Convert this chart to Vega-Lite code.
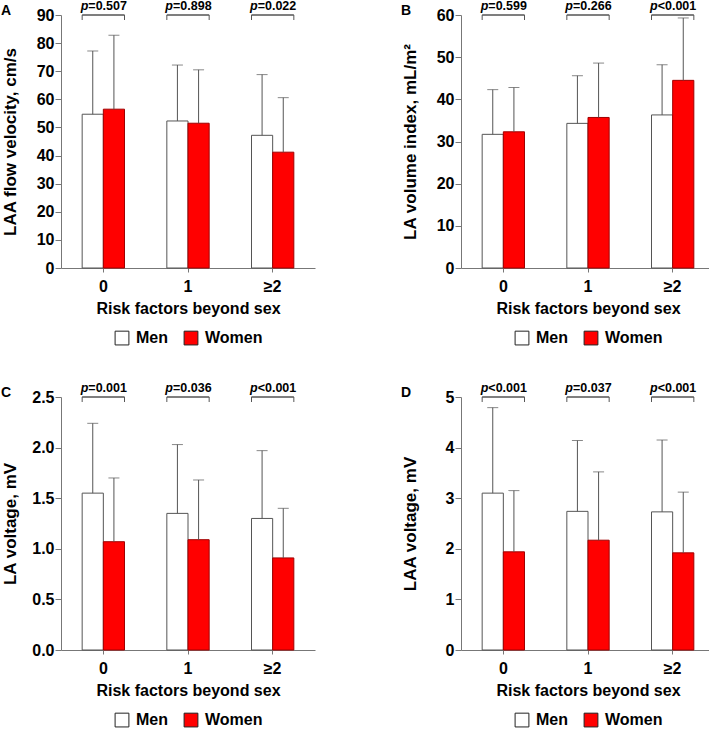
{
  "$schema": "https://vega.github.io/schema/vega-lite/v6.json",
  "padding": {"left": 1, "top": 0, "right": 0, "bottom": 0},
  "background": "white",
  "datasets": {
    "d": [
      {"panel": "A", "risk": "0", "sex": "Men", "mean": 54.7, "upper": 77.2, "p": "=0.507"},
      {"panel": "A", "risk": "0", "sex": "Women", "mean": 56.5, "upper": 82.8, "p": "=0.507"},
      {"panel": "A", "risk": "1", "sex": "Men", "mean": 52.3, "upper": 72.2, "p": "=0.898"},
      {"panel": "A", "risk": "1", "sex": "Women", "mean": 51.5, "upper": 70.5, "p": "=0.898"},
      {"panel": "A", "risk": "≥2", "sex": "Men", "mean": 47.2, "upper": 68.8, "p": "=0.022"},
      {"panel": "A", "risk": "≥2", "sex": "Women", "mean": 41.2, "upper": 60.6, "p": "=0.022"},
      {"panel": "B", "risk": "0", "sex": "Men", "mean": 31.7, "upper": 42.3, "p": "=0.599"},
      {"panel": "B", "risk": "0", "sex": "Women", "mean": 32.3, "upper": 42.8, "p": "=0.599"},
      {"panel": "B", "risk": "1", "sex": "Men", "mean": 34.3, "upper": 45.6, "p": "=0.266"},
      {"panel": "B", "risk": "1", "sex": "Women", "mean": 35.7, "upper": 48.6, "p": "=0.266"},
      {"panel": "B", "risk": "≥2", "sex": "Men", "mean": 36.3, "upper": 48.2, "p": "<0.001"},
      {"panel": "B", "risk": "≥2", "sex": "Women", "mean": 44.5, "upper": 59.3, "p": "<0.001"},
      {"panel": "C", "risk": "0", "sex": "Men", "mean": 1.55, "upper": 2.24, "p": "=0.001"},
      {"panel": "C", "risk": "0", "sex": "Women", "mean": 1.07, "upper": 1.70, "p": "=0.001"},
      {"panel": "C", "risk": "1", "sex": "Men", "mean": 1.35, "upper": 2.03, "p": "=0.036"},
      {"panel": "C", "risk": "1", "sex": "Women", "mean": 1.09, "upper": 1.68, "p": "=0.036"},
      {"panel": "C", "risk": "≥2", "sex": "Men", "mean": 1.30, "upper": 1.97, "p": "<0.001"},
      {"panel": "C", "risk": "≥2", "sex": "Women", "mean": 0.91, "upper": 1.40, "p": "<0.001"},
      {"panel": "D", "risk": "0", "sex": "Men", "mean": 3.10, "upper": 4.79, "p": "<0.001"},
      {"panel": "D", "risk": "0", "sex": "Women", "mean": 1.94, "upper": 3.15, "p": "<0.001"},
      {"panel": "D", "risk": "1", "sex": "Men", "mean": 2.74, "upper": 4.14, "p": "=0.037"},
      {"panel": "D", "risk": "1", "sex": "Women", "mean": 2.17, "upper": 3.52, "p": "=0.037"},
      {"panel": "D", "risk": "≥2", "sex": "Men", "mean": 2.73, "upper": 4.15, "p": "<0.001"},
      {"panel": "D", "risk": "≥2", "sex": "Women", "mean": 1.92, "upper": 3.12, "p": "<0.001"}
    ]
  },
  "columns": 2,
  "spacing": {"column": 86, "row": 35},
  "resolve": {"scale": {"color": "independent", "stroke": "independent"}},
  "concat": [
    {
      "title": {"text": "A"},
      "width": 254, "height": 253,
      "data": {"name": "d"},
      "transform": [{"filter": "datum.panel === 'A'"}],
      "encoding": {
        "x": {"field": "risk", "type": "nominal", "sort": ["0", "1", "≥2"], "title": "Risk factors beyond sex", "scale": {"paddingInner": 0.5, "paddingOuter": 0.25}}
      },
      "layer": [
        {"mark": {"type": "bar", "strokeWidth": 1},
         "encoding": {
           "xOffset": {"field": "sex", "type": "nominal", "sort": ["Men", "Women"], "scale": {"paddingInner": 0, "paddingOuter": 0}},
           "y": {"field": "mean", "type": "quantitative", "title": "LAA flow velocity, cm/s", "scale": {"domain": [0, 90], "nice": false}, "axis": {"values": [0, 10, 20, 30, 40, 50, 60, 70, 80, 90]}},
           "color": {"field": "sex", "type": "nominal", "sort": ["Men", "Women"], "scale": {"range": ["#ffffff", "#ff0000"]}, "legend": {"title": null, "orient": "bottom", "direction": "horizontal", "symbolType": "square", "symbolSize": 190, "symbolStrokeColor": "#222222", "symbolStrokeWidth": 1, "labelFontSize": 16, "labelFontWeight": "bold", "labelColor": "#000000", "labelOffset": 6, "columnPadding": 14, "offset": 14}},
           "stroke": {"field": "sex", "type": "nominal", "sort": ["Men", "Women"], "scale": {"range": ["#555555", "#a00000"]}, "legend": null}
         }},
        {"mark": {"type": "rule", "color": "#555555", "strokeWidth": 1},
         "encoding": {
           "xOffset": {"field": "sex", "type": "nominal", "sort": ["Men", "Women"]},
           "y": {"field": "mean", "type": "quantitative", "title": "LAA flow velocity, cm/s", "axis": {"values": [0, 10, 20, 30, 40, 50, 60, 70, 80, 90]}},
           "y2": {"field": "upper"}
         }},
        {"mark": {"type": "tick", "color": "#555555", "size": 11, "thickness": 1, "orient": "horizontal"},
         "encoding": {
           "xOffset": {"field": "sex", "type": "nominal", "sort": ["Men", "Women"]},
           "y": {"field": "upper", "type": "quantitative", "title": "LAA flow velocity, cm/s", "axis": {"values": [0, 10, 20, 30, 40, 50, 60, 70, 80, 90]}}
         }},
        {"transform": [{"filter": "datum.sex === 'Men'"}],
         "mark": {"type": "bar", "fill": "transparent", "stroke": "#555555", "strokeWidth": 1},
         "encoding": {"y": {"datum": 90, "type": "quantitative", "title": "LAA flow velocity, cm/s", "axis": {"values": [0, 10, 20, 30, 40, 50, 60, 70, 80, 90]}}, "y2": {"datum": 90}}},
        {"transform": [{"filter": "datum.sex === 'Men'"}],
         "mark": {"type": "rule", "color": "#555555", "strokeWidth": 1, "y2Offset": 5},
         "encoding": {"x": {"field": "risk", "type": "nominal", "sort": ["0", "1", "≥2"], "title": "Risk factors beyond sex", "bandPosition": 0}, "y": {"datum": 90, "type": "quantitative", "title": "LAA flow velocity, cm/s", "axis": {"values": [0, 10, 20, 30, 40, 50, 60, 70, 80, 90]}}, "y2": {"datum": 90}}},
        {"transform": [{"filter": "datum.sex === 'Men'"}],
         "mark": {"type": "rule", "color": "#555555", "strokeWidth": 1, "y2Offset": 5},
         "encoding": {"x": {"field": "risk", "type": "nominal", "sort": ["0", "1", "≥2"], "title": "Risk factors beyond sex", "bandPosition": 1}, "y": {"datum": 90, "type": "quantitative", "title": "LAA flow velocity, cm/s", "axis": {"values": [0, 10, 20, 30, 40, 50, 60, 70, 80, 90]}}, "y2": {"datum": 90}}},
        {"transform": [{"filter": "datum.sex === 'Men'"}],
         "mark": {"type": "text", "fontStyle": "italic", "fontWeight": "bold", "fontSize": 12.5, "align": "right", "baseline": "alphabetic", "dx": -15, "dy": -5, "color": "#000000"},
         "encoding": {"text": {"value": "p"}, "y": {"datum": 90, "type": "quantitative", "title": "LAA flow velocity, cm/s", "axis": {"values": [0, 10, 20, 30, 40, 50, 60, 70, 80, 90]}}}},
        {"transform": [{"filter": "datum.sex === 'Men'"}],
         "mark": {"type": "text", "fontWeight": "bold", "fontSize": 12.5, "align": "left", "baseline": "alphabetic", "dx": -15, "dy": -5, "color": "#000000"},
         "encoding": {"text": {"field": "p"}, "y": {"datum": 90, "type": "quantitative", "title": "LAA flow velocity, cm/s", "axis": {"values": [0, 10, 20, 30, 40, 50, 60, 70, 80, 90]}}}}
      ]
    },
    {
      "title": {"text": "B"},
      "width": 254, "height": 253,
      "data": {"name": "d"},
      "transform": [{"filter": "datum.panel === 'B'"}],
      "encoding": {
        "x": {"field": "risk", "type": "nominal", "sort": ["0", "1", "≥2"], "title": "Risk factors beyond sex", "scale": {"paddingInner": 0.5, "paddingOuter": 0.25}}
      },
      "layer": [
        {"mark": {"type": "bar", "strokeWidth": 1},
         "encoding": {
           "xOffset": {"field": "sex", "type": "nominal", "sort": ["Men", "Women"], "scale": {"paddingInner": 0, "paddingOuter": 0}},
           "y": {"field": "mean", "type": "quantitative", "title": "LA volume index, mL/m²", "scale": {"domain": [0, 60], "nice": false}, "axis": {"values": [0, 10, 20, 30, 40, 50, 60]}},
           "color": {"field": "sex", "type": "nominal", "sort": ["Men", "Women"], "scale": {"range": ["#ffffff", "#ff0000"]}, "legend": {"title": null, "orient": "bottom", "direction": "horizontal", "symbolType": "square", "symbolSize": 190, "symbolStrokeColor": "#222222", "symbolStrokeWidth": 1, "labelFontSize": 16, "labelFontWeight": "bold", "labelColor": "#000000", "labelOffset": 6, "columnPadding": 14, "offset": 14}},
           "stroke": {"field": "sex", "type": "nominal", "sort": ["Men", "Women"], "scale": {"range": ["#555555", "#a00000"]}, "legend": null}
         }},
        {"mark": {"type": "rule", "color": "#555555", "strokeWidth": 1},
         "encoding": {
           "xOffset": {"field": "sex", "type": "nominal", "sort": ["Men", "Women"]},
           "y": {"field": "mean", "type": "quantitative", "title": "LA volume index, mL/m²", "axis": {"values": [0, 10, 20, 30, 40, 50, 60]}},
           "y2": {"field": "upper"}
         }},
        {"mark": {"type": "tick", "color": "#555555", "size": 11, "thickness": 1, "orient": "horizontal"},
         "encoding": {
           "xOffset": {"field": "sex", "type": "nominal", "sort": ["Men", "Women"]},
           "y": {"field": "upper", "type": "quantitative", "title": "LA volume index, mL/m²", "axis": {"values": [0, 10, 20, 30, 40, 50, 60]}}
         }},
        {"transform": [{"filter": "datum.sex === 'Men'"}],
         "mark": {"type": "bar", "fill": "transparent", "stroke": "#555555", "strokeWidth": 1},
         "encoding": {"y": {"datum": 60, "type": "quantitative", "title": "LA volume index, mL/m²", "axis": {"values": [0, 10, 20, 30, 40, 50, 60]}}, "y2": {"datum": 60}}},
        {"transform": [{"filter": "datum.sex === 'Men'"}],
         "mark": {"type": "rule", "color": "#555555", "strokeWidth": 1, "y2Offset": 5},
         "encoding": {"x": {"field": "risk", "type": "nominal", "sort": ["0", "1", "≥2"], "title": "Risk factors beyond sex", "bandPosition": 0}, "y": {"datum": 60, "type": "quantitative", "title": "LA volume index, mL/m²", "axis": {"values": [0, 10, 20, 30, 40, 50, 60]}}, "y2": {"datum": 60}}},
        {"transform": [{"filter": "datum.sex === 'Men'"}],
         "mark": {"type": "rule", "color": "#555555", "strokeWidth": 1, "y2Offset": 5},
         "encoding": {"x": {"field": "risk", "type": "nominal", "sort": ["0", "1", "≥2"], "title": "Risk factors beyond sex", "bandPosition": 1}, "y": {"datum": 60, "type": "quantitative", "title": "LA volume index, mL/m²", "axis": {"values": [0, 10, 20, 30, 40, 50, 60]}}, "y2": {"datum": 60}}},
        {"transform": [{"filter": "datum.sex === 'Men'"}],
         "mark": {"type": "text", "fontStyle": "italic", "fontWeight": "bold", "fontSize": 12.5, "align": "right", "baseline": "alphabetic", "dx": -15, "dy": -5, "color": "#000000"},
         "encoding": {"text": {"value": "p"}, "y": {"datum": 60, "type": "quantitative", "title": "LA volume index, mL/m²", "axis": {"values": [0, 10, 20, 30, 40, 50, 60]}}}},
        {"transform": [{"filter": "datum.sex === 'Men'"}],
         "mark": {"type": "text", "fontWeight": "bold", "fontSize": 12.5, "align": "left", "baseline": "alphabetic", "dx": -15, "dy": -5, "color": "#000000"},
         "encoding": {"text": {"field": "p"}, "y": {"datum": 60, "type": "quantitative", "title": "LA volume index, mL/m²", "axis": {"values": [0, 10, 20, 30, 40, 50, 60]}}}}
      ]
    },
    {
      "title": {"text": "C"},
      "width": 254, "height": 253,
      "data": {"name": "d"},
      "transform": [{"filter": "datum.panel === 'C'"}],
      "encoding": {
        "x": {"field": "risk", "type": "nominal", "sort": ["0", "1", "≥2"], "title": "Risk factors beyond sex", "scale": {"paddingInner": 0.5, "paddingOuter": 0.25}}
      },
      "layer": [
        {"mark": {"type": "bar", "strokeWidth": 1},
         "encoding": {
           "xOffset": {"field": "sex", "type": "nominal", "sort": ["Men", "Women"], "scale": {"paddingInner": 0, "paddingOuter": 0}},
           "y": {"field": "mean", "type": "quantitative", "title": "LA voltage, mV", "scale": {"domain": [0, 2.5], "nice": false}, "axis": {"values": [0, 0.5, 1, 1.5, 2, 2.5], "format": ".1f"}},
           "color": {"field": "sex", "type": "nominal", "sort": ["Men", "Women"], "scale": {"range": ["#ffffff", "#ff0000"]}, "legend": {"title": null, "orient": "bottom", "direction": "horizontal", "symbolType": "square", "symbolSize": 190, "symbolStrokeColor": "#222222", "symbolStrokeWidth": 1, "labelFontSize": 16, "labelFontWeight": "bold", "labelColor": "#000000", "labelOffset": 6, "columnPadding": 14, "offset": 14}},
           "stroke": {"field": "sex", "type": "nominal", "sort": ["Men", "Women"], "scale": {"range": ["#555555", "#a00000"]}, "legend": null}
         }},
        {"mark": {"type": "rule", "color": "#555555", "strokeWidth": 1},
         "encoding": {
           "xOffset": {"field": "sex", "type": "nominal", "sort": ["Men", "Women"]},
           "y": {"field": "mean", "type": "quantitative", "title": "LA voltage, mV", "axis": {"values": [0, 0.5, 1, 1.5, 2, 2.5], "format": ".1f"}},
           "y2": {"field": "upper"}
         }},
        {"mark": {"type": "tick", "color": "#555555", "size": 11, "thickness": 1, "orient": "horizontal"},
         "encoding": {
           "xOffset": {"field": "sex", "type": "nominal", "sort": ["Men", "Women"]},
           "y": {"field": "upper", "type": "quantitative", "title": "LA voltage, mV", "axis": {"values": [0, 0.5, 1, 1.5, 2, 2.5], "format": ".1f"}}
         }},
        {"transform": [{"filter": "datum.sex === 'Men'"}],
         "mark": {"type": "bar", "fill": "transparent", "stroke": "#555555", "strokeWidth": 1},
         "encoding": {"y": {"datum": 2.5, "type": "quantitative", "title": "LA voltage, mV", "axis": {"values": [0, 0.5, 1, 1.5, 2, 2.5], "format": ".1f"}}, "y2": {"datum": 2.5}}},
        {"transform": [{"filter": "datum.sex === 'Men'"}],
         "mark": {"type": "rule", "color": "#555555", "strokeWidth": 1, "y2Offset": 5},
         "encoding": {"x": {"field": "risk", "type": "nominal", "sort": ["0", "1", "≥2"], "title": "Risk factors beyond sex", "bandPosition": 0}, "y": {"datum": 2.5, "type": "quantitative", "title": "LA voltage, mV", "axis": {"values": [0, 0.5, 1, 1.5, 2, 2.5], "format": ".1f"}}, "y2": {"datum": 2.5}}},
        {"transform": [{"filter": "datum.sex === 'Men'"}],
         "mark": {"type": "rule", "color": "#555555", "strokeWidth": 1, "y2Offset": 5},
         "encoding": {"x": {"field": "risk", "type": "nominal", "sort": ["0", "1", "≥2"], "title": "Risk factors beyond sex", "bandPosition": 1}, "y": {"datum": 2.5, "type": "quantitative", "title": "LA voltage, mV", "axis": {"values": [0, 0.5, 1, 1.5, 2, 2.5], "format": ".1f"}}, "y2": {"datum": 2.5}}},
        {"transform": [{"filter": "datum.sex === 'Men'"}],
         "mark": {"type": "text", "fontStyle": "italic", "fontWeight": "bold", "fontSize": 12.5, "align": "right", "baseline": "alphabetic", "dx": -15, "dy": -5, "color": "#000000"},
         "encoding": {"text": {"value": "p"}, "y": {"datum": 2.5, "type": "quantitative", "title": "LA voltage, mV", "axis": {"values": [0, 0.5, 1, 1.5, 2, 2.5], "format": ".1f"}}}},
        {"transform": [{"filter": "datum.sex === 'Men'"}],
         "mark": {"type": "text", "fontWeight": "bold", "fontSize": 12.5, "align": "left", "baseline": "alphabetic", "dx": -15, "dy": -5, "color": "#000000"},
         "encoding": {"text": {"field": "p"}, "y": {"datum": 2.5, "type": "quantitative", "title": "LA voltage, mV", "axis": {"values": [0, 0.5, 1, 1.5, 2, 2.5], "format": ".1f"}}}}
      ]
    },
    {
      "title": {"text": "D"},
      "width": 254, "height": 253,
      "data": {"name": "d"},
      "transform": [{"filter": "datum.panel === 'D'"}],
      "encoding": {
        "x": {"field": "risk", "type": "nominal", "sort": ["0", "1", "≥2"], "title": "Risk factors beyond sex", "scale": {"paddingInner": 0.5, "paddingOuter": 0.25}}
      },
      "layer": [
        {"mark": {"type": "bar", "strokeWidth": 1},
         "encoding": {
           "xOffset": {"field": "sex", "type": "nominal", "sort": ["Men", "Women"], "scale": {"paddingInner": 0, "paddingOuter": 0}},
           "y": {"field": "mean", "type": "quantitative", "title": "LAA voltage, mV", "scale": {"domain": [0, 5], "nice": false}, "axis": {"values": [0, 1, 2, 3, 4, 5]}},
           "color": {"field": "sex", "type": "nominal", "sort": ["Men", "Women"], "scale": {"range": ["#ffffff", "#ff0000"]}, "legend": {"title": null, "orient": "bottom", "direction": "horizontal", "symbolType": "square", "symbolSize": 190, "symbolStrokeColor": "#222222", "symbolStrokeWidth": 1, "labelFontSize": 16, "labelFontWeight": "bold", "labelColor": "#000000", "labelOffset": 6, "columnPadding": 14, "offset": 14}},
           "stroke": {"field": "sex", "type": "nominal", "sort": ["Men", "Women"], "scale": {"range": ["#555555", "#a00000"]}, "legend": null}
         }},
        {"mark": {"type": "rule", "color": "#555555", "strokeWidth": 1},
         "encoding": {
           "xOffset": {"field": "sex", "type": "nominal", "sort": ["Men", "Women"]},
           "y": {"field": "mean", "type": "quantitative", "title": "LAA voltage, mV", "axis": {"values": [0, 1, 2, 3, 4, 5]}},
           "y2": {"field": "upper"}
         }},
        {"mark": {"type": "tick", "color": "#555555", "size": 11, "thickness": 1, "orient": "horizontal"},
         "encoding": {
           "xOffset": {"field": "sex", "type": "nominal", "sort": ["Men", "Women"]},
           "y": {"field": "upper", "type": "quantitative", "title": "LAA voltage, mV", "axis": {"values": [0, 1, 2, 3, 4, 5]}}
         }},
        {"transform": [{"filter": "datum.sex === 'Men'"}],
         "mark": {"type": "bar", "fill": "transparent", "stroke": "#555555", "strokeWidth": 1},
         "encoding": {"y": {"datum": 5, "type": "quantitative", "title": "LAA voltage, mV", "axis": {"values": [0, 1, 2, 3, 4, 5]}}, "y2": {"datum": 5}}},
        {"transform": [{"filter": "datum.sex === 'Men'"}],
         "mark": {"type": "rule", "color": "#555555", "strokeWidth": 1, "y2Offset": 5},
         "encoding": {"x": {"field": "risk", "type": "nominal", "sort": ["0", "1", "≥2"], "title": "Risk factors beyond sex", "bandPosition": 0}, "y": {"datum": 5, "type": "quantitative", "title": "LAA voltage, mV", "axis": {"values": [0, 1, 2, 3, 4, 5]}}, "y2": {"datum": 5}}},
        {"transform": [{"filter": "datum.sex === 'Men'"}],
         "mark": {"type": "rule", "color": "#555555", "strokeWidth": 1, "y2Offset": 5},
         "encoding": {"x": {"field": "risk", "type": "nominal", "sort": ["0", "1", "≥2"], "title": "Risk factors beyond sex", "bandPosition": 1}, "y": {"datum": 5, "type": "quantitative", "title": "LAA voltage, mV", "axis": {"values": [0, 1, 2, 3, 4, 5]}}, "y2": {"datum": 5}}},
        {"transform": [{"filter": "datum.sex === 'Men'"}],
         "mark": {"type": "text", "fontStyle": "italic", "fontWeight": "bold", "fontSize": 12.5, "align": "right", "baseline": "alphabetic", "dx": -15, "dy": -5, "color": "#000000"},
         "encoding": {"text": {"value": "p"}, "y": {"datum": 5, "type": "quantitative", "title": "LAA voltage, mV", "axis": {"values": [0, 1, 2, 3, 4, 5]}}}},
        {"transform": [{"filter": "datum.sex === 'Men'"}],
         "mark": {"type": "text", "fontWeight": "bold", "fontSize": 12.5, "align": "left", "baseline": "alphabetic", "dx": -15, "dy": -5, "color": "#000000"},
         "encoding": {"text": {"field": "p"}, "y": {"datum": 5, "type": "quantitative", "title": "LAA voltage, mV", "axis": {"values": [0, 1, 2, 3, 4, 5]}}}}
      ]
    }
  ],
  "config": {
    "font": "Liberation Sans",
    "view": {"stroke": null},
    "axis": {"domainColor": "#777777", "tickColor": "#777777", "labelFontSize": 16, "labelFontWeight": "bold", "labelColor": "#000000", "titleFontSize": 17, "titleFontWeight": "bold", "titleColor": "#000000", "grid": false},
    "axisX": {"tickSize": 4, "labelPadding": 6, "titleFontSize": 16, "titlePadding": 6, "labelAngle": 0},
    "axisY": {"tickSize": 6, "labelPadding": 1, "minExtent": 26, "maxExtent": 26, "titlePadding": 16},
    "legend": {"layout": {"bottom": {"anchor": "middle"}}},
    "title": {"anchor": "start", "frame": "bounds", "fontSize": 14, "fontWeight": "bold", "color": "#000000", "offset": -18}
  }
}
